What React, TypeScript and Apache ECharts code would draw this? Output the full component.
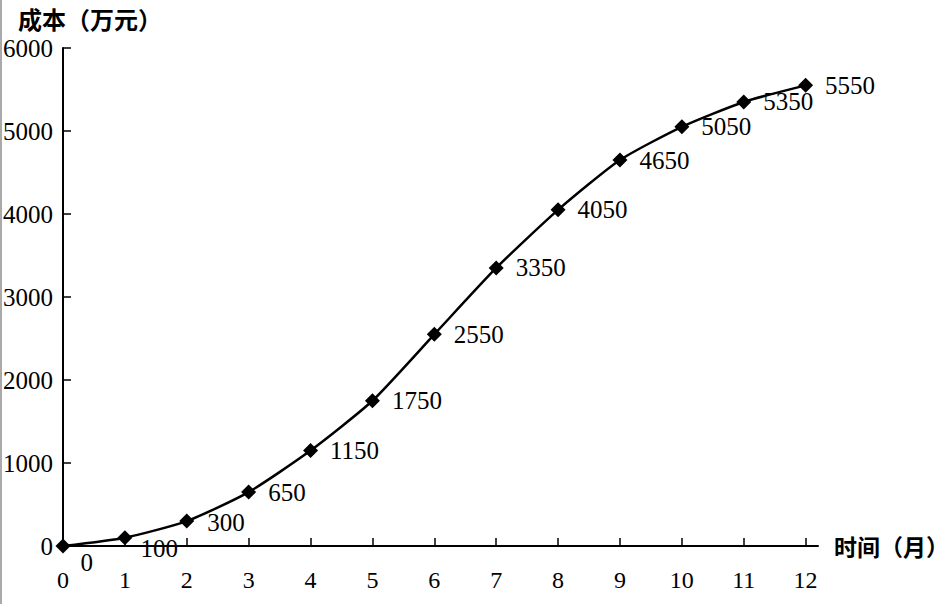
import React, { useEffect, useRef } from 'react'
import * as echarts from 'echarts'

// 月份与累计成本（万元）
const months = [0, 1, 2, 3, 4, 5, 6, 7, 8, 9, 10, 11, 12]
const costs = [0, 100, 300, 650, 1150, 1750, 2550, 3350, 4050, 4650, 5050, 5350, 5550]
const xTicks = [0, 1, 2, 3, 4, 5, 6, 7, 8, 9, 10, 11, 12]
const yTicks = [0, 1000, 2000, 3000, 4000, 5000, 6000]

// 个别数据标签的偏移
const labelShift: Record<number, number[]> = {
  0: [-2, 16],
  1: [-4, 11],
  2: [1, 1],
}

const SERIF = '"Liberation Serif", "DejaVu Serif", serif'
const CJK = '"Noto Sans CJK SC", "Noto Sans", sans-serif'

const App: React.FC = () => {
  const chartRef = useRef<HTMLDivElement>(null)

  useEffect(() => {
    if (!chartRef.current) return
    const chart = echarts.init(chartRef.current, undefined, { renderer: 'svg' })

    const data = months.map((m, i) => ({
      value: [m, costs[i]],
      label: labelShift[i] ? { offset: labelShift[i] } : undefined,
    }))

    const option = {
      animation: false,
      backgroundColor: '#ffffff',
      grid: { left: 63, right: 133, top: 48, bottom: 58, containLabel: false, outerBoundsMode: 'none' },
      xAxis: {
        type: 'value',
        min: 0,
        max: 12.2,
        interval: 1,
        name: '时间（月）',
        nameLocation: 'end',
        nameGap: 16,
        nameTextStyle: { fontFamily: CJK, fontSize: 23, fontWeight: 'bold', color: '#000' },
        axisLine: { show: true, lineStyle: { color: '#000', width: 2 } },
        axisTick: { show: true, inside: true, length: 8, customValues: xTicks, lineStyle: { color: '#000', width: 1.5 } },
        axisLabel: {
          customValues: xTicks,
          margin: 22,
          fontFamily: SERIF,
          fontSize: 24,
          color: '#000',
          formatter: (v: number) => String(v),
        },
        splitLine: { show: false },
      },
      yAxis: {
        type: 'value',
        min: 0,
        max: 6000,
        interval: 1000,
        axisLine: { show: true, lineStyle: { color: '#000', width: 2 } },
        axisTick: { show: true, inside: true, length: 8, customValues: yTicks, lineStyle: { color: '#000', width: 1.5 } },
        axisLabel: {
          customValues: yTicks,
          margin: 10,
          fontFamily: SERIF,
          fontSize: 25,
          color: '#000',
          formatter: (v: number) => String(v),
        },
        splitLine: { show: false },
      },
      graphic: [
        {
          type: 'text',
          left: 18,
          top: 6,
          style: { text: '成本（万元）', fontFamily: CJK, fontSize: 24, fontWeight: 'bold', fill: '#000' },
        },
        {
          type: 'line',
          shape: { x1: 1, y1: 0, x2: 1, y2: 604 },
          style: { stroke: '#555', lineWidth: 1 },
        },
      ],
      series: [
        {
          type: 'line',
          data,
          smooth: 0.2,
          symbol: 'diamond',
          symbolSize: 15,
          itemStyle: { color: '#000' },
          lineStyle: { color: '#000', width: 2.5 },
          label: {
            show: true,
            position: 'right',
            distance: 12,
            formatter: (p: any) => String(p.value[1]),
            fontFamily: SERIF,
            fontSize: 25,
            color: '#000',
          },
        },
      ],
    }

    chart.setOption(option)
    return () => {
      chart.dispose()
    }
  }, [])

  return (
    <div
      ref={chartRef}
      style={{ position: 'fixed', left: 0, top: 0, width: 951, height: 604, background: '#fff' }}
    />
  )
}

export default App
